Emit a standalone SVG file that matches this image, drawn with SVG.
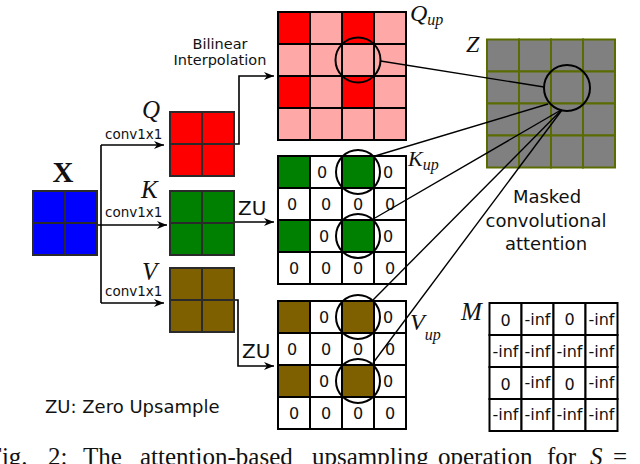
<svg xmlns="http://www.w3.org/2000/svg" width="640" height="464" viewBox="0 0 640 464">
<defs>
<style>
.g2{stroke:#2a2a2a;stroke-width:2}
.gb{stroke:#000;stroke-width:2}
.gz{stroke:#5a6b00;stroke-width:2;fill:#808080}
.red{fill:#ff0000}
.pink{fill:#ffa8a8}
.grn{fill:#008000}
.brn{fill:#7f6000}
.blu{fill:#0000ff}
.wh{fill:#ffffff}
.ring{fill:none;stroke:#000;stroke-width:2}
.conn{fill:none;stroke:#000;stroke-width:1.6}
.ray{fill:none;stroke:#000;stroke-width:1.4}
.sans{font-family:"DejaVu Sans",Verdana,sans-serif;fill:#111}
.math{font-family:"Liberation Serif","Times New Roman",serif;font-style:italic;fill:#111}
.cell0{font-family:"DejaVu Sans",sans-serif;font-size:16px;text-anchor:middle;fill:#111}
.inf{font-family:"DejaVu Sans",sans-serif;font-size:16px;text-anchor:middle;fill:#111}
</style>
<marker id="arr" markerWidth="12" markerHeight="10" refX="10" refY="4" orient="auto" markerUnits="userSpaceOnUse">
<path d="M0,0 L10,4 L0,8 L3,4 z" fill="#000"/>
</marker>
</defs>
<rect width="640" height="464" fill="#fff"/>

<g id="connectors">
<polyline class="conn" points="101,145 101,303"/>
<polyline class="conn" points="101,145 164,145" marker-end="url(#arr)"/>
<polyline class="conn" points="97,225 167,225" marker-end="url(#arr)"/>
<polyline class="conn" points="101,303 164,303" marker-end="url(#arr)"/>
<polyline class="conn" points="234,144 239,144 239,76 274,76" marker-end="url(#arr)"/>
<polyline class="conn" points="234,222 274,222" marker-end="url(#arr)"/>
<polyline class="conn" points="234,300 238,300 238,366 274,366" marker-end="url(#arr)"/>
</g>

<g id="node-X">
<g class="g2 blu">
<rect x="33" y="191" width="32" height="32"/><rect x="65" y="191" width="32" height="32"/>
<rect x="33" y="223" width="32" height="32"/><rect x="65" y="223" width="32" height="32"/>
</g>
<text x="63" y="182" font-family="Liberation Serif,serif" font-weight="bold" font-size="29" text-anchor="middle" fill="#111">X</text>
</g>

<g id="node-Q">
<g class="g2 red">
<rect x="170" y="112" width="32" height="32"/><rect x="202" y="112" width="32" height="32"/>
<rect x="170" y="144" width="32" height="32"/><rect x="202" y="144" width="32" height="32"/>
</g>
<text class="math" x="142" y="118" font-size="25">Q</text>
<text class="sans" x="105" y="139" font-size="13.5">conv1x1</text>
</g>

<g id="node-K">
<g class="g2 grn">
<rect x="170" y="191" width="32" height="32"/><rect x="202" y="191" width="32" height="32"/>
<rect x="170" y="223" width="32" height="32"/><rect x="202" y="223" width="32" height="32"/>
</g>
<text class="math" x="141" y="198" font-size="25">K</text>
<text class="sans" x="105" y="217" font-size="13.5">conv1x1</text>
<text class="sans" x="238" y="215" font-size="20">ZU</text>
</g>

<g id="node-V">
<g class="g2 brn">
<rect x="170" y="268" width="32" height="32"/><rect x="202" y="268" width="32" height="32"/>
<rect x="170" y="300" width="32" height="32"/><rect x="202" y="300" width="32" height="32"/>
</g>
<text class="math" x="142" y="280" font-size="25">V</text>
<text class="sans" x="105" y="296" font-size="13.5">conv1x1</text>
<text class="sans" x="242" y="358" font-size="20">ZU</text>
</g>

<g id="node-Qup">
<g class="gb">
<rect class="red" x="278" y="12" width="32" height="32"/><rect class="pink" x="310" y="12" width="32" height="32"/><rect class="red" x="342" y="12" width="32" height="32"/><rect class="pink" x="374" y="12" width="32" height="32"/>
<rect class="pink" x="278" y="44" width="32" height="32"/><rect class="pink" x="310" y="44" width="32" height="32"/><rect class="pink" x="342" y="44" width="32" height="32"/><rect class="pink" x="374" y="44" width="32" height="32"/>
<rect class="red" x="278" y="76" width="32" height="32"/><rect class="pink" x="310" y="76" width="32" height="32"/><rect class="red" x="342" y="76" width="32" height="32"/><rect class="pink" x="374" y="76" width="32" height="32"/>
<rect class="pink" x="278" y="108" width="32" height="32"/><rect class="pink" x="310" y="108" width="32" height="32"/><rect class="pink" x="342" y="108" width="32" height="32"/><rect class="pink" x="374" y="108" width="32" height="32"/>
</g>
<circle class="ring" cx="358" cy="60" r="22.5"/>
<text class="math" x="410" y="21" font-size="24">Q<tspan font-size="16" dy="4">up</tspan></text>
<text class="sans" x="220" y="49" font-size="14.5" text-anchor="middle">Bilinear</text>
<text class="sans" x="220" y="65" font-size="14.5" text-anchor="middle">Interpolation</text>
</g>

<g id="node-Kup">
<g class="gb">
<rect class="grn" x="278" y="156" width="32" height="32"/><rect class="wh" x="310" y="156" width="32" height="32"/><rect class="grn" x="342" y="156" width="32" height="32"/><rect class="wh" x="374" y="156" width="32" height="32"/>
<rect class="wh" x="278" y="188" width="32" height="32"/><rect class="wh" x="310" y="188" width="32" height="32"/><rect class="wh" x="342" y="188" width="32" height="32"/><rect class="wh" x="374" y="188" width="32" height="32"/>
<rect class="grn" x="278" y="220" width="32" height="32"/><rect class="wh" x="310" y="220" width="32" height="32"/><rect class="grn" x="342" y="220" width="32" height="32"/><rect class="wh" x="374" y="220" width="32" height="32"/>
<rect class="wh" x="278" y="252" width="32" height="32"/><rect class="wh" x="310" y="252" width="32" height="32"/><rect class="wh" x="342" y="252" width="32" height="32"/><rect class="wh" x="374" y="252" width="32" height="32"/>
</g>
<text class="cell0" x="322" y="178">0</text><text class="cell0" x="388" y="178">0</text>
<text class="cell0" x="292" y="210">0</text><text class="cell0" x="326" y="210">0</text><text class="cell0" x="358" y="210">0</text><text class="cell0" x="390" y="210">0</text>
<text class="cell0" x="324" y="242">0</text><text class="cell0" x="388" y="242">0</text>
<text class="cell0" x="294" y="274">0</text><text class="cell0" x="326" y="274">0</text><text class="cell0" x="358" y="274">0</text><text class="cell0" x="390" y="274">0</text>
<circle class="ring" cx="358" cy="172" r="22"/>
<circle class="ring" cx="358" cy="236" r="22"/>
<text class="math" x="408" y="166" font-size="22">K<tspan font-size="16" dy="4">up</tspan></text>
</g>

<g id="node-Vup">
<g class="gb">
<rect class="brn" x="278" y="301" width="32" height="32"/><rect class="wh" x="310" y="301" width="32" height="32"/><rect class="brn" x="342" y="301" width="32" height="32"/><rect class="wh" x="374" y="301" width="32" height="32"/>
<rect class="wh" x="278" y="333" width="32" height="32"/><rect class="wh" x="310" y="333" width="32" height="32"/><rect class="wh" x="342" y="333" width="32" height="32"/><rect class="wh" x="374" y="333" width="32" height="32"/>
<rect class="brn" x="278" y="365" width="32" height="32"/><rect class="wh" x="310" y="365" width="32" height="32"/><rect class="brn" x="342" y="365" width="32" height="32"/><rect class="wh" x="374" y="365" width="32" height="32"/>
<rect class="wh" x="278" y="397" width="32" height="32"/><rect class="wh" x="310" y="397" width="32" height="32"/><rect class="wh" x="342" y="397" width="32" height="32"/><rect class="wh" x="374" y="397" width="32" height="32"/>
</g>
<text class="cell0" x="324" y="323">0</text><text class="cell0" x="388" y="323">0</text>
<text class="cell0" x="292" y="355">0</text><text class="cell0" x="326" y="355">0</text><text class="cell0" x="358" y="355">0</text><text class="cell0" x="390" y="355">0</text>
<text class="cell0" x="324" y="387">0</text><text class="cell0" x="388" y="387">0</text>
<text class="cell0" x="294" y="419">0</text><text class="cell0" x="326" y="419">0</text><text class="cell0" x="358" y="419">0</text><text class="cell0" x="390" y="419">0</text>
<circle class="ring" cx="358" cy="317" r="22"/>
<circle class="ring" cx="358" cy="381" r="22"/>
<text class="math" x="410" y="330" font-size="24">V<tspan font-size="16" dy="10">up</tspan></text>
</g>

<g id="node-Z">
<g class="gz">
<rect x="487" y="39.5" width="32" height="32"/><rect x="519" y="39.5" width="32" height="32"/><rect x="551" y="39.5" width="32" height="32"/><rect x="583" y="39.5" width="32" height="32"/>
<rect x="487" y="71.5" width="32" height="32"/><rect x="519" y="71.5" width="32" height="32"/><rect x="551" y="71.5" width="32" height="32"/><rect x="583" y="71.5" width="32" height="32"/>
<rect x="487" y="103.5" width="32" height="32"/><rect x="519" y="103.5" width="32" height="32"/><rect x="551" y="103.5" width="32" height="32"/><rect x="583" y="103.5" width="32" height="32"/>
<rect x="487" y="135.5" width="32" height="32"/><rect x="519" y="135.5" width="32" height="32"/><rect x="551" y="135.5" width="32" height="32"/><rect x="583" y="135.5" width="32" height="32"/>
</g>
<circle class="ring" cx="567" cy="88" r="23"/>
<text class="math" x="466" y="52" font-size="24">Z</text>
</g>

<g id="rays">
<line class="ray" x1="380.5" y1="61" x2="544" y2="87"/>
<line class="ray" x1="375" y1="156" x2="548" y2="104"/>
<line class="ray" x1="375" y1="218" x2="561" y2="110"/>
<line class="ray" x1="373" y1="300" x2="561.5" y2="110"/>
<line class="ray" x1="373" y1="363" x2="562" y2="110"/>
</g>

<g id="label-attention">
<text class="sans" x="547" y="203" font-size="18" text-anchor="middle">Masked</text>
<text class="sans" x="546" y="227" font-size="18" text-anchor="middle">convolutional</text>
<text class="sans" x="546" y="250" font-size="18" text-anchor="middle">attention</text>
</g>

<g id="node-M">
<g class="gb wh">
<rect x="489.5" y="303" width="32" height="32"/><rect x="521.5" y="303" width="32" height="32"/><rect x="553.5" y="303" width="32" height="32"/><rect x="585.5" y="303" width="32" height="32"/>
<rect x="489.5" y="335" width="32" height="32"/><rect x="521.5" y="335" width="32" height="32"/><rect x="553.5" y="335" width="32" height="32"/><rect x="585.5" y="335" width="32" height="32"/>
<rect x="489.5" y="367" width="32" height="32"/><rect x="521.5" y="367" width="32" height="32"/><rect x="553.5" y="367" width="32" height="32"/><rect x="585.5" y="367" width="32" height="32"/>
<rect x="489.5" y="399" width="32" height="32"/><rect x="521.5" y="399" width="32" height="32"/><rect x="553.5" y="399" width="32" height="32"/><rect x="585.5" y="399" width="32" height="32"/>
</g>
<text class="inf" x="505.5" y="326">0</text><text class="inf" x="537.5" y="325">-inf</text><text class="inf" x="569.5" y="325">0</text><text class="inf" x="601.5" y="325">-inf</text>
<text class="inf" x="505.5" y="357">-inf</text><text class="inf" x="537.5" y="357">-inf</text><text class="inf" x="569.5" y="357">-inf</text><text class="inf" x="601.5" y="357">-inf</text>
<text class="inf" x="505.5" y="390">0</text><text class="inf" x="537.5" y="388">-inf</text><text class="inf" x="569.5" y="390">0</text><text class="inf" x="601.5" y="388">-inf</text>
<text class="inf" x="505.5" y="420">-inf</text><text class="inf" x="537.5" y="420">-inf</text><text class="inf" x="569.5" y="420">-inf</text><text class="inf" x="601.5" y="420">-inf</text>
<text class="math" x="461" y="320" font-size="25">M</text>
</g>

<text class="sans" x="45" y="413" font-size="18">ZU: Zero Upsample</text>

<text font-family="Liberation Serif,'Times New Roman',serif" font-size="25" fill="#111" y="465"><tspan x="-12">Fig.</tspan><tspan x="48">2:</tspan><tspan x="83">The</tspan><tspan x="140">attention-based</tspan><tspan x="312">upsampling</tspan><tspan x="438">operation</tspan><tspan x="547">for</tspan><tspan x="590" font-style="italic">S</tspan><tspan x="613">=</tspan></text>
</svg>
